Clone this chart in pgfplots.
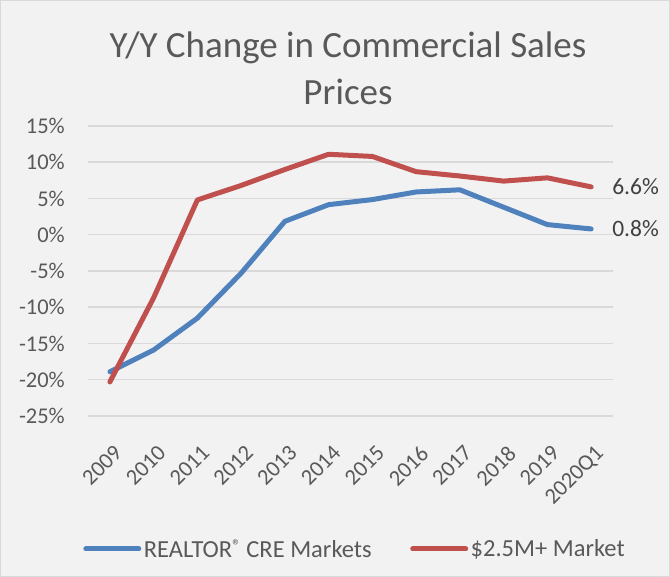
\documentclass[border=0pt]{standalone}
\usepackage{fontspec}
\setmainfont{Carlito}
\usepackage{pgfplots}
\pgfplotsset{compat=1.18}
\definecolor{bgc}{HTML}{F2F2F2}
\definecolor{gridc}{HTML}{D9D9D9}
\definecolor{txt}{HTML}{595959}
\definecolor{lbl}{HTML}{404040}
\definecolor{cre}{HTML}{4F81BD}
\definecolor{big}{HTML}{C0504D}

\begin{document}
\begin{tikzpicture}
\fill[bgc] (-88pt,-161pt) rectangle (582pt,416pt);
\draw[gridc,line width=0.8pt] (-87.6pt,-160.6pt) rectangle (581.6pt,415.6pt);
\begin{axis}[
  scale only axis, width=525pt, height=290pt,
  xmin=-0.5, xmax=11.5, ymin=-25, ymax=15,
  xtick={0,...,11},
  xticklabels={2009,2010,2011,2012,2013,2014,2015,2016,2017,2018,2019,2020Q1},
  ytick={-25,-20,...,15},
  yticklabels={-25\%,-20\%,-15\%,-10\%,-5\%,0\%,5\%,10\%,15\%},
  axis line style={draw=none},
  major tick length=0pt,
  ymajorgrids, grid style={gridc,line width=1.5pt},
  tick label style={font=\fontsize{22.5}{26}\selectfont, text=txt},
  yticklabel style={inner sep=0pt, anchor=east, xshift=-23pt},
  xticklabel style={inner sep=0pt, xshift=3pt, yshift=-28pt, rotate=45, anchor=north east},
  legend style={at={(-0.015,-0.4586)}, anchor=west, draw=none, fill=none,
    font=\fontsize{24.5}{28}\selectfont, text=txt, legend columns=2,
    /tikz/every even column/.append style={column sep=36pt},
    nodes={inner sep=2.5pt}},
  legend image code/.code={\draw[#1,line cap=round] (0pt,0pt) -- (53pt,0pt);},
  clip=false,
]
\addplot[cre, line width=5pt, line join=round, line cap=round]
  coordinates {(0,-18.9)(1,-15.9)(2,-11.5)(3,-5.3)(4,1.85)(5,4.15)
               (6,4.85)(7,5.9)(8,6.2)(9,3.8)(10,1.4)(11,0.8)};
\addlegendentry{REALTOR\raisebox{0.5ex}{\fontsize{17}{17}\selectfont ®} CRE Markets}
\addplot[big, line width=5pt, line join=round, line cap=round]
  coordinates {(0,-20.3)(1,-8.7)(2,4.8)(3,6.8)(4,9.0)(5,11.1)
               (6,10.8)(7,8.7)(8,8.1)(9,7.4)(10,7.85)(11,6.6)};
\addlegendentry{\$2.5M+ Market}
\node[anchor=west, inner sep=0pt, xshift=21pt, text=lbl, font=\fontsize{23.5}{27}\selectfont]
  at (axis cs:11,6.6) {6.6\%};
\node[anchor=west, inner sep=0pt, xshift=21pt, text=lbl, font=\fontsize{23.5}{27}\selectfont]
  at (axis cs:11,0.8) {0.8\%};
\end{axis}
\node[anchor=base, text=txt, font=\fontsize{37}{44}\selectfont] at (260pt,358pt) {Y/Y Change in Commercial Sales};
\node[anchor=base, text=txt, font=\fontsize{37}{44}\selectfont] at (260pt,311pt) {Prices};
\pgfresetboundingbox
\path (-88pt,-161pt) rectangle (582pt,416pt);
\end{tikzpicture}
\end{document}
